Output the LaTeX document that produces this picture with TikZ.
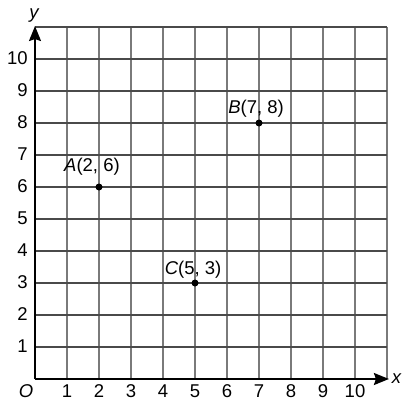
\documentclass[tikz,border=0pt]{standalone}
\usepackage{fontspec}
\setmainfont{Liberation Sans}
\usetikzlibrary{arrows.meta}
\definecolor{vgrid}{HTML}{7A7A7A}
\definecolor{hgrid}{HTML}{4A4A4A}
\begin{document}
\begin{tikzpicture}[x=32pt,y=32pt,
  vline/.style={draw=vgrid,line width=1.4pt},
  hline/.style={draw=hgrid,line width=1.3pt},
  axis/.style={draw=black,line width=1.9pt,-{Stealth[length=15pt,width=12pt,inset=2pt]}},
  lab/.style={font=\fontsize{18.5}{22}\selectfont,inner sep=0pt},
  pt/.style={circle,fill=black,inner sep=0pt,minimum size=7pt}]
\useasboundingbox (-35pt,-23pt) rectangle (368pt,379pt);
\foreach \i in {1,...,11} \draw[vline] (\i,0) -- (\i,11);
\foreach \j in {1,...,11} \draw[hline] (0,\j) -- (11,\j);
\coordinate (O) at (0,0);
\coordinate (xend) at (11.06,0);
\coordinate (yend) at (0,11.03);
\draw[axis] (O) -- (xend);
\draw[axis] (O) -- (yend);
\node[lab,anchor=base] (xl) at (11.3,-0.13) {\itshape x};
\node[lab,anchor=base] (yl) at (-0.03,11.25) {\itshape y};
\node[lab,anchor=base] (ol) at (-0.28,-0.57) {\itshape O};
\foreach \i in {1,...,10} \node[lab,anchor=base] (xt\i) at (\i,-0.57) {\i};
\foreach \j in {1,...,10} \node[lab,anchor=base east] (yt\j) at (-0.22,\j-0.18) {\j};
\node[pt] (A) at (2,6) {};
\node[pt] (B) at (7,8) {};
\node[pt] (C) at (5,3) {};
\node[lab,anchor=base] (Al) at (1.78,6.5) {\textit{A}(2, 6)};
\node[lab,anchor=base] (Bl) at (6.91,8.31) {\textit{B}(7, 8)};
\node[lab,anchor=base] (Cl) at (4.94,3.28) {\textit{C}(5, 3)};
\end{tikzpicture}
\end{document}
